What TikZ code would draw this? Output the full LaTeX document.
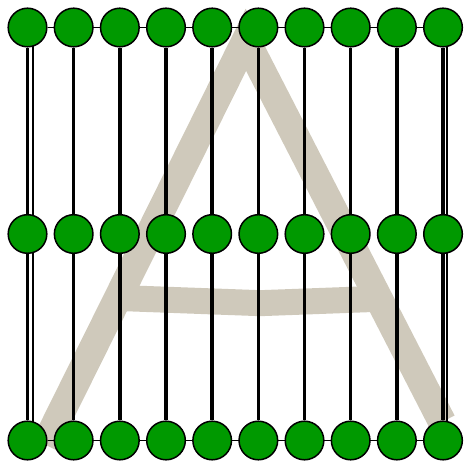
\documentclass[tikz,border=0pt]{standalone}
\usepackage{tikz}
\usetikzlibrary{backgrounds}
\definecolor{dotgreen}{RGB}{0,153,0}
\definecolor{letterbeige}{RGB}{207,201,187}

\begin{document}
\begin{tikzpicture}[x=46.17pt,y=206.5pt,
  dot/.style={circle,draw=black,line width=1.5pt,fill=dotgreen,minimum size=38.6pt,inner sep=0pt}]
\useasboundingbox (-27.5pt,-22.5pt) rectangle (438.5pt,440.5pt);

\node[dot] (t0) at (0,2) {};
\node[dot] (t1) at (1,2) {};
\node[dot] (t2) at (2,2) {};
\node[dot] (t3) at (3,2) {};
\node[dot] (t4) at (4,2) {};
\node[dot] (t5) at (5,2) {};
\node[dot] (t6) at (6,2) {};
\node[dot] (t7) at (7,2) {};
\node[dot] (t8) at (8,2) {};
\node[dot] (t9) at (9,2) {};

\node[dot] (m0) at (0,1) {};
\node[dot] (m1) at (1,1) {};
\node[dot] (m2) at (2,1) {};
\node[dot] (m3) at (3,1) {};
\node[dot] (m4) at (4,1) {};
\node[dot] (m5) at (5,1) {};
\node[dot] (m6) at (6,1) {};
\node[dot] (m7) at (7,1) {};
\node[dot] (m8) at (8,1) {};
\node[dot] (m9) at (9,1) {};

\node[dot] (b0) at (0,0) {};
\node[dot] (b1) at (1,0) {};
\node[dot] (b2) at (2,0) {};
\node[dot] (b3) at (3,0) {};
\node[dot] (b4) at (4,0) {};
\node[dot] (b5) at (5,0) {};
\node[dot] (b6) at (6,0) {};
\node[dot] (b7) at (7,0) {};
\node[dot] (b8) at (8,0) {};
\node[dot] (b9) at (9,0) {};

\begin{scope}[on background layer]
% the letter
\draw[letterbeige,line width=28pt,line join=miter] (0.38,-0.02) -- (4.73,1.94) -- (8.98,0.09);
\draw[letterbeige,line width=26pt] (2.00,0.69) -- (5.04,0.665) -- (7.46,0.685);

\draw[line width=1.5pt] (t0) -- (t9);
\draw[line width=1.5pt] (b0) -- (b9);

\draw[line width=3.4pt] (t0) -- (b0);
\draw[line width=3.4pt] (t1) -- (b1);
\draw[line width=3.4pt] (t2) -- (b2);
\draw[line width=3.4pt] (t3) -- (b3);
\draw[line width=3.4pt] (t4) -- (b4);
\draw[line width=3.4pt] (t5) -- (b5);
\draw[line width=3.4pt] (t6) -- (b6);
\draw[line width=3.4pt] (t7) -- (b7);
\draw[line width=3.4pt] (t8) -- (b8);
\draw[line width=3.4pt] (t9) -- (b9);

\draw[line width=2pt] ([xshift=6pt]t0.center) -- ([xshift=6pt]b0.center);
\draw[line width=2pt] ([xshift=3.8pt]t9.center) -- ([xshift=3.8pt]b9.center);
\end{scope}
\end{tikzpicture}
\end{document}
